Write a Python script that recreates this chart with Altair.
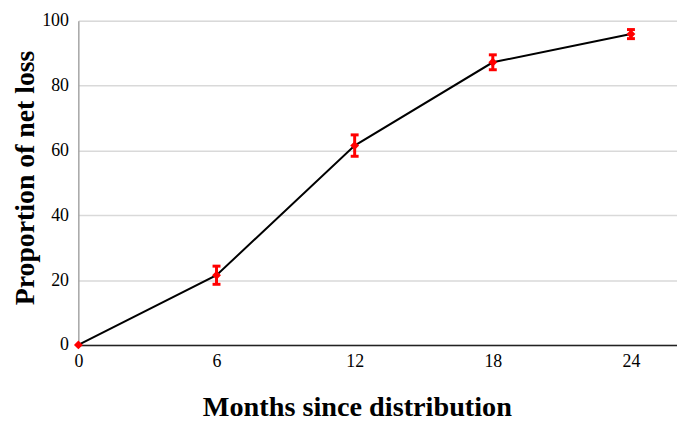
import altair as alt
import pandas as pd

months = [0, 6, 12, 18, 24]
proportion = [0, 21.5, 61.5, 87.2, 95.9]
err = [0, 2.8, 3.3, 2.3, 1.4]

df = pd.DataFrame({
    "month": months,
    "prop": proportion,
    "lo": [p - e for p, e in zip(proportion, err)],
    "hi": [p + e for p, e in zip(proportion, err)],
})
dfe = df[df["month"] > 0]

FONT = "Liberation Serif"
H = 327

x = alt.X("month:Q", scale=alt.Scale(domain=[0, 26], nice=False),
          axis=alt.Axis(values=[0, 6, 12, 18, 24], title="Months since distribution",
                        grid=False, ticks=False, labelFont=FONT, labelFontSize=18, labelFlush=False,
                        labelColor="#000", labelPadding=8, domainColor="#222", domainWidth=1.5,
                        titleFont=FONT, titleFontSize=28.5, titleFontWeight="bold", titleColor="#000",
                        titleX=281, titleY=62, titleBaseline="middle", titleAlign="center"))
y = alt.Y("prop:Q", scale=alt.Scale(domain=[0, 100], nice=False),
          axis=alt.Axis(values=[0, 20, 40, 60, 80, 100], title="Proportion of net loss",
                        ticks=False, labelFont=FONT, labelFontSize=18, labelColor="#000", labelFlush=False,
                        labelPadding=10, domainColor="#888", gridColor="#d9d9d9", gridWidth=1.5,
                        titleFont=FONT, titleFontSize=28, titleFontWeight="bold", titleColor="#000",
                        titleX=-53, titleY=158, titleAngle=-90, titleBaseline="middle",
                        titleAlign="center"))

line = alt.Chart(df).mark_line(color="#000", strokeWidth=2).encode(x=x, y=y)
rules = alt.Chart(dfe).mark_rule(color="#ff0000", strokeWidth=3).encode(
    x="month:Q", y="lo:Q", y2="hi:Q")
cap_lo = alt.Chart(dfe).mark_tick(color="#ff0000", orient="horizontal", size=8, thickness=3, opacity=1).encode(
    x="month:Q", y="lo:Q")
cap_hi = alt.Chart(dfe).mark_tick(color="#ff0000", orient="horizontal", size=8, thickness=3, opacity=1).encode(
    x="month:Q", y="hi:Q")
pts = alt.Chart(df).mark_point(shape="diamond", filled=True, color="#ff0000", size=80, opacity=1).encode(
    x="month:Q", y="prop:Q")

chart = alt.layer(line, rules, cap_lo, cap_hi, pts).properties(
    width=604, height=H,
    autosize=alt.AutoSizeParams(type="none"),
    padding={"left": 71, "top": 11, "right": 0, "bottom": 90},
).configure_view(stroke=None).configure(background="white")

chart.save("out.html", embed_options={"renderer": "svg", "actions": False})
